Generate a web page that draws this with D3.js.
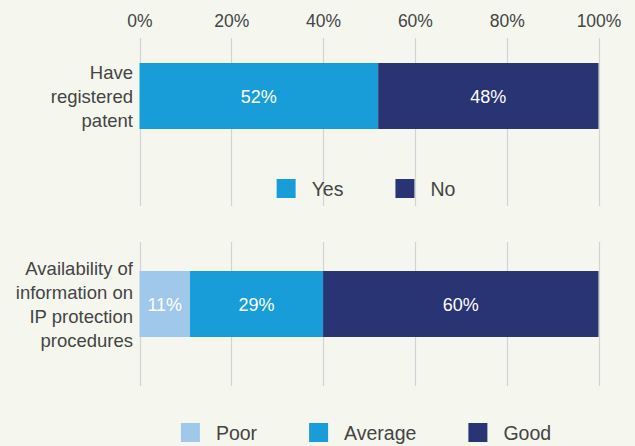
<!DOCTYPE html>
<html>
<head>
<meta charset="utf-8">
<script src="https://cdn.jsdelivr.net/npm/d3@7"></script>
<style>
  html, body { margin: 0; padding: 0; background: #f5f7ef; }
  svg { display: block; font-family: "Liberation Sans", Arial, sans-serif; }
</style>
</head>
<body>
<script>
// data
var tickValues = [0, 20, 40, 60, 80, 100];

var patentLabel = ["Have", "registered", "patent"];
var patentKeys = ["Yes", "No"];
var patentValues = [52, 48];
var patentColors = ["#189dd9", "#293474"];

var infoLabel = ["Availability of", "information on", "IP protection", "procedures"];
var infoKeys = ["Poor", "Average", "Good"];
var infoValues = [11, 29, 60];
var infoColors = ["#9fc8eb", "#189dd9", "#293474"];

// layout
var width = 635, height = 446;
var x0 = 139.5, x1 = 598.5;
var textColor = "#444";
var gridColor = "#d3d3d3";

var svg = d3.select("body").append("svg")
  .attr("width", width)
  .attr("height", height);

svg.append("rect").attr("width", width).attr("height", height).attr("fill", "#f5f7ef");

var x = d3.scaleLinear().domain([0, 100]).range([x0, x1]);

// top axis labels
var xAxis = d3.axisTop(x)
  .tickValues(tickValues)
  .tickSize(0)
  .tickPadding(0)
  .tickFormat(function(d) { return d + "%"; });

var axisG = svg.append("g")
  .attr("transform", "translate(0, 27)")
  .call(xAxis);
axisG.select(".domain").remove();
axisG.selectAll("text")
  .attr("fill", textColor)
  .attr("font-size", "17.5px")
  .attr("font-family", "Liberation Sans, Arial, sans-serif")
  .attr("dy", 0);

var panels = [
  { label: patentLabel, keys: patentKeys, values: patentValues, colors: patentColors,
    gridTop: 38, gridBottom: 206, barTop: 63, legendY: 188.5 },
  { label: infoLabel, keys: infoKeys, values: infoValues, colors: infoColors,
    gridTop: 242, gridBottom: 386, barTop: 271, legendY: 432.5 }
];
var barHeight = 66;

panels.forEach(function(p) {
  var g = svg.append("g");

  // gridlines
  g.selectAll("line.grid")
    .data(tickValues)
    .enter().append("line")
    .attr("x1", function(d) { return Math.round(x(d)) + 0.5; })
    .attr("x2", function(d) { return Math.round(x(d)) + 0.5; })
    .attr("y1", p.gridTop)
    .attr("y2", p.gridBottom)
    .attr("stroke", gridColor)
    .attr("stroke-width", 1.2);

  // stacked segments
  var starts = [];
  var acc = 0;
  p.values.forEach(function(v) { starts.push(acc); acc += v; });

  g.selectAll("rect.seg")
    .data(p.values)
    .enter().append("rect")
    .attr("x", function(d, i) { return x(starts[i]); })
    .attr("y", p.barTop)
    .attr("width", function(d) { return x(d) - x(0); })
    .attr("height", barHeight)
    .attr("fill", function(d, i) { return p.colors[i]; });

  var cy = p.barTop + barHeight / 2;

  g.selectAll("text.val")
    .data(p.values)
    .enter().append("text")
    .attr("x", function(d, i) { return x(starts[i] + d / 2); })
    .attr("y", cy + 7)
    .attr("text-anchor", "middle")
    .attr("fill", "#fff")
    .attr("font-size", "18px")
    .text(function(d) { return d + "%"; });

  // category label
  var n = p.label.length;
  g.selectAll("text.cat")
    .data(p.label)
    .enter().append("text")
    .attr("x", 133)
    .attr("y", function(d, i) { return cy + (i - (n - 1) / 2) * 24 + 7; })
    .attr("text-anchor", "end")
    .attr("fill", textColor)
    .attr("font-size", "18.5px")
    .text(function(d) { return d; });

  // legend
  var lg = svg.append("g");
  var items = lg.selectAll("g.item")
    .data(p.keys)
    .enter().append("g");
  items.append("rect")
    .attr("width", 19).attr("height", 19)
    .attr("y", p.legendY - 9.5)
    .attr("fill", function(d, i) { return p.colors[i]; });
  items.append("text")
    .attr("x", 35)
    .attr("y", p.legendY + 7.5)
    .attr("fill", textColor)
    .attr("font-size", "19.5px")
    .text(function(d) { return d; });

  var pos = 0;
  var offsets = [];
  items.each(function() {
    offsets.push(pos);
    pos += 35 + this.querySelector("text").getComputedTextLength() + 52;
  });
  var total = pos - 52;
  var startX = 366 - total / 2;
  items.attr("transform", function(d, i) { return "translate(" + (startX + offsets[i]) + ",0)"; });
});
</script>
</body>
</html>
